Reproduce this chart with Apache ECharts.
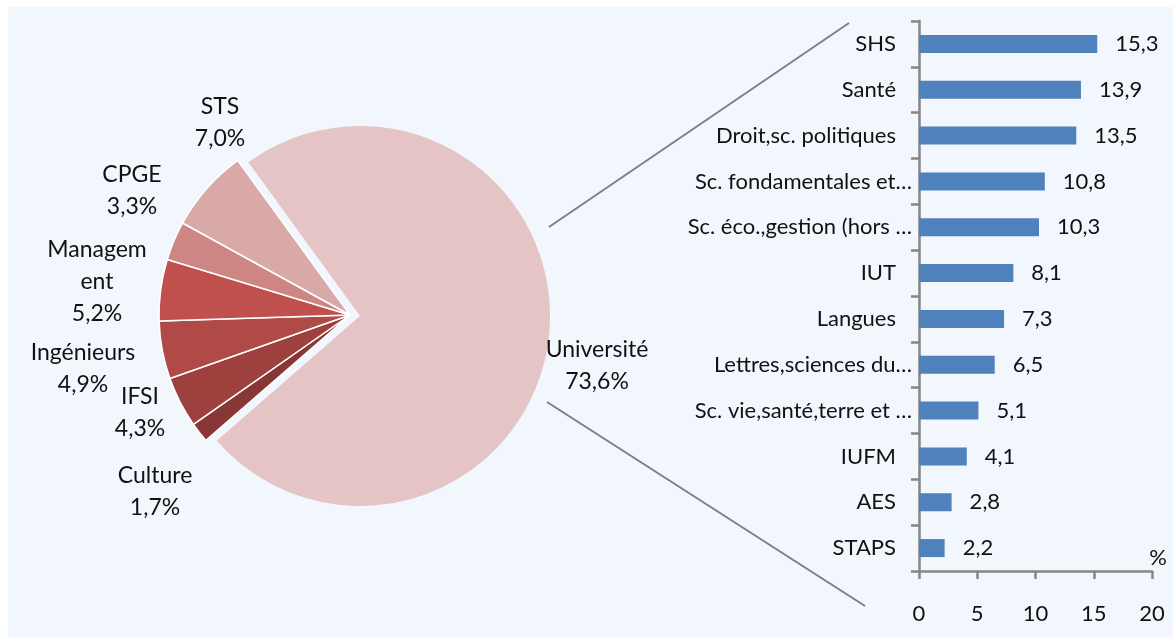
<!DOCTYPE html>
<html>
<head>
<meta charset="utf-8">
<script src="https://cdn.jsdelivr.net/npm/echarts@6/dist/echarts.min.js"></script>
<style>
  html, body { margin: 0; padding: 0; background: #ffffff; }
  #bg { position: absolute; left: 8px; top: 7px; width: 1165px; height: 630px; background: #f2f6fd; }
  #chart { position: absolute; left: 0; top: 0; width: 1173px; height: 637px; }
</style>
</head>
<body>
<div id="bg"></div>
<div id="chart"></div>
<script>
// pie: share of students by type of institution (%)
const pieNames = ['Université', 'Culture', 'IFSI', 'Ingénieurs', 'Management', 'CPGE', 'STS'];
const pieValues = [73.6, 1.7, 4.3, 4.9, 5.2, 3.3, 7.0];

// bar: breakdown of université (%)
const barCategories = [
  'SHS', 'Santé', 'Droit,sc. politiques', 'Sc. fondamentales et…', 'Sc. éco.,gestion (hors …',
  'IUT', 'Langues', 'Lettres,sciences du…', 'Sc. vie,santé,terre et …', 'IUFM', 'AES', 'STAPS'
];
const barValues = [15.3, 13.9, 13.5, 10.8, 10.3, 8.1, 7.3, 6.5, 5.1, 4.1, 2.8, 2.2];
const xTicks = [0, 5, 10, 15, 20];

const FONT = 'Lato';
const TXT = '#111111';
const pieColors = ['#e4c4c5', '#873735', '#9d403e', '#af4a47', '#c0504d', '#cd8684', '#d9a9a8'];

// where Excel put the pie labels (centre of each label block), by data index
const pieLabelPos = [
  [597, 366], // Université
  [155, 492], // Culture
  [140, 413], // IFSI
  [83, 369],  // Ingénieurs
  [97, 282],  // Management
  [132, 191], // CPGE
  [220, 123]  // STS
];

const fmt = v => v.toFixed(1).replace('.', ',');

// big slice is drawn by its own pie, pushed a bit to the right (exploded),
// the small ones by a second pie that also carries every label
const hidden = { color: 'rgba(0,0,0,0)', borderWidth: 0 };
const bigPieData = pieNames.map((n, i) => ({
  name: n, value: pieValues[i],
  itemStyle: i === 0 ? { color: pieColors[0] } : hidden
}));
const smallPieData = pieNames.map((n, i) => {
  const item = { name: n, value: pieValues[i], itemStyle: i === 0 ? hidden : { color: pieColors[i] } };
  if (n === 'Management') item.label = { width: 104, overflow: 'breakAll' };
  return item;
});

const chart = echarts.init(document.getElementById('chart'));

chart.setOption({
  animation: false,
  textStyle: { fontFamily: FONT },
  grid: { left: 919, top: 21, width: 233, height: 550, containLabel: false },
  xAxis: {
    type: 'value',
    min: xTicks[0],
    max: xTicks[xTicks.length - 1],
    interval: 5,
    name: '%',
    nameLocation: 'end',
    nameGap: 6,
    nameTextStyle: { color: TXT, fontSize: 22, fontFamily: FONT, align: 'center', verticalAlign: 'bottom', padding: [0, 0, 2, 0] },
    axisLine: { show: true, lineStyle: { color: '#868686', width: 2.5 } },
    axisTick: { show: true, length: 8, lineStyle: { color: '#868686', width: 2.5 } },
    axisLabel: { color: TXT, fontSize: 22, fontFamily: FONT, margin: 32 },
    splitLine: { show: false }
  },
  yAxis: {
    type: 'category',
    inverse: true,
    data: barCategories,
    axisLine: { show: true, lineStyle: { color: '#868686', width: 2.5 } },
    axisTick: { show: true, length: 8, lineStyle: { color: '#868686', width: 2.5 } },
    axisLabel: {
      color: TXT, fontSize: 22, fontFamily: FONT, margin: 7,
      formatter: v => v.endsWith('…') ? v : '{p|' + v + '}',
      rich: { p: { color: TXT, fontSize: 22, fontFamily: FONT, padding: [0, 16, 0, 0] } }
    }
  },
  series: [
    {
      type: 'bar',
      data: barValues,
      barWidth: 18,
      itemStyle: { color: '#4f81bd' },
      label: {
        show: true,
        position: 'right',
        distance: 18,
        color: TXT,
        fontSize: 22,
        fontFamily: FONT,
        formatter: p => fmt(p.value)
      }
    },
    {
      type: 'pie',
      silent: true,
      center: [360, 316],
      radius: 190,
      startAngle: 126,
      clockwise: true,
      label: { show: false },
      labelLine: { show: false },
      data: bigPieData
    },
    {
      type: 'pie',
      center: [350, 315],
      radius: 191,
      startAngle: 126,
      clockwise: true,
      avoidLabelOverlap: false,
      itemStyle: { borderColor: '#ffffff', borderWidth: 1.5 },
      emphasis: { disabled: true },
      label: {
        show: true,
        position: 'outside',
        color: TXT,
        fontSize: 23,
        fontFamily: FONT,
        lineHeight: 32,
        align: 'center',
        verticalAlign: 'middle',
        formatter: p => p.name + '\n' + fmt(p.value) + '%'
      },
      labelLine: { show: false },
      labelLayout: p => {
        const pos = pieLabelPos[p.dataIndex];
        return pos ? { x: pos[0], y: pos[1], align: 'center', verticalAlign: 'middle' } : {};
      },
      data: smallPieData
    }
  ],
  graphic: [
    { type: 'line', silent: true, shape: { x1: 549, y1: 227, x2: 849, y2: 23 }, style: { stroke: '#7f7f7f', lineWidth: 2 } },
    { type: 'line', silent: true, shape: { x1: 547, y1: 402, x2: 865, y2: 606 }, style: { stroke: '#7f7f7f', lineWidth: 2 } }
  ]
});
</script>
</body>
</html>
